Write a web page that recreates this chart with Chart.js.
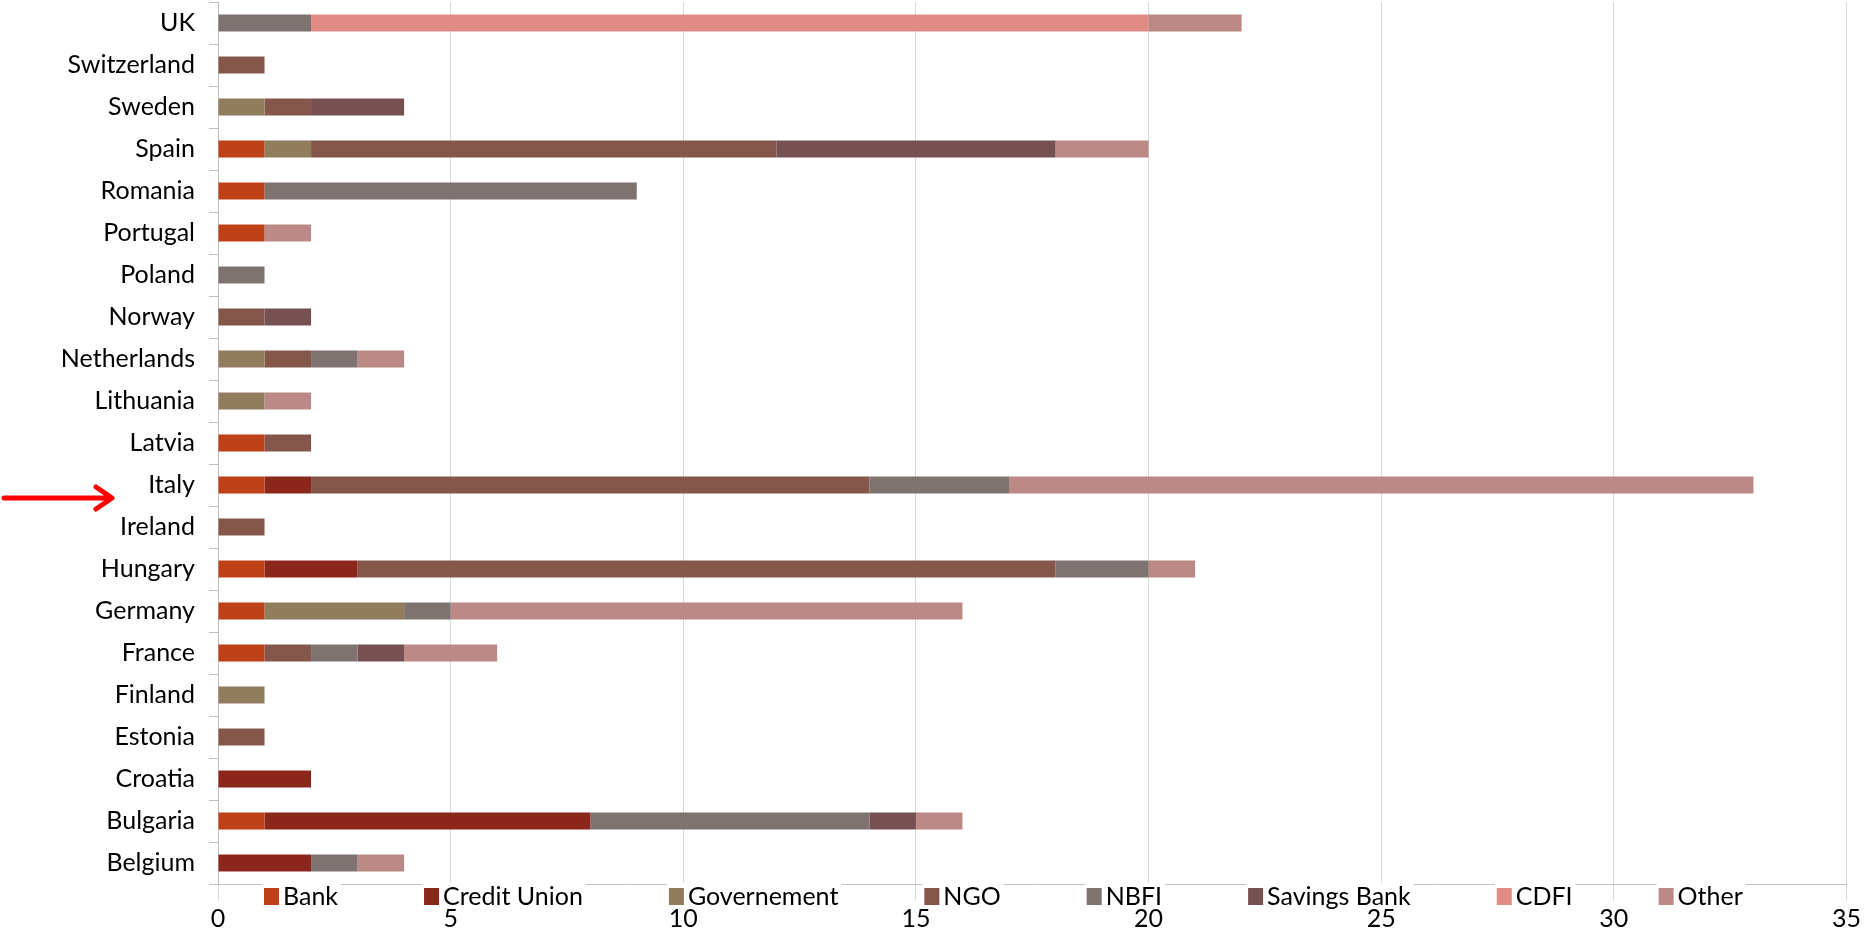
<!DOCTYPE html>
<html>
<head>
<meta charset="utf-8">
<script src="https://cdn.jsdelivr.net/npm/chart.js@4.4.0/dist/chart.umd.min.js"></script>
<style>
    body { margin: 0; background: #fff; }
    #wrap { width: 1865px; height: 936px; position: relative; }
</style>
</head>
<body>
<div id="wrap"><canvas id="chart"></canvas></div>
<script>
// countries, top to bottom
const countries = ["UK", "Switzerland", "Sweden", "Spain", "Romania", "Portugal", "Poland", "Norway",
    "Netherlands", "Lithuania", "Latvia", "Italy", "Ireland", "Hungary", "Germany", "France",
    "Finland", "Estonia", "Croatia", "Bulgaria", "Belgium"];

const bank         = [0, 0, 0, 1, 1, 1, 0, 0, 0, 0, 1, 1, 0, 1, 1, 1, 0, 0, 0, 1, 0];
const creditUnion  = [0, 0, 0, 0, 0, 0, 0, 0, 0, 0, 0, 1, 0, 2, 0, 0, 0, 0, 2, 7, 2];
const governement  = [0, 0, 1, 1, 0, 0, 0, 0, 1, 1, 0, 0, 0, 0, 3, 0, 1, 0, 0, 0, 0];
const ngo          = [0, 1, 1, 10, 0, 0, 0, 1, 1, 0, 1, 12, 1, 15, 0, 1, 0, 1, 0, 0, 0];
const nbfi         = [2, 0, 0, 0, 8, 0, 1, 0, 1, 0, 0, 3, 0, 2, 1, 1, 0, 0, 0, 6, 1];
const savingsBank  = [0, 0, 2, 6, 0, 0, 0, 1, 0, 0, 0, 0, 0, 0, 0, 1, 0, 0, 0, 1, 0];
const cdfi         = [18, 0, 0, 0, 0, 0, 0, 0, 0, 0, 0, 0, 0, 0, 0, 0, 0, 0, 0, 0, 0];
const other        = [2, 0, 0, 2, 0, 1, 0, 0, 1, 1, 0, 16, 0, 1, 11, 2, 0, 0, 0, 1, 1];

const xTicks = [0, 5, 10, 15, 20, 25, 30, 35];
const highlighted = "Italy";

const series = [
    { label: "Bank", data: bank, color: "#BE4016" },
    { label: "Credit Union", data: creditUnion, color: "#8B261D" },
    { label: "Governement", data: governement, color: "#8F7D5C" },
    { label: "NGO", data: ngo, color: "#85574A" },
    { label: "NBFI", data: nbfi, color: "#7F7372" },
    { label: "Savings Bank", data: savingsBank, color: "#775152" },
    { label: "CDFI", data: cdfi, color: "#E08C84" },
    { label: "Other", data: other, color: "#BB8A87" },
];

const FONT = "Lato, 'Open Sans', sans-serif";

// legend drawn between the axis line and the tick labels, like the original
const bottomLegend = {
    id: "bottomLegend",
    afterDraw(chart) {
        const ctx = chart.ctx;
        const y = chart.chartArea.bottom + 12;
        let x = 264;
        ctx.save();
        ctx.font = "25px " + FONT;
        ctx.textBaseline = "middle";
        chart.data.datasets.forEach(ds => {
            const w = ctx.measureText(ds.label).width;
            ctx.fillStyle = "#fff";
            ctx.fillRect(x - 2, y - 13, 20 + w + 4, 26);
            ctx.fillStyle = ds.backgroundColor;
            ctx.fillRect(x, y - 8, 15, 17);
            ctx.fillStyle = "#000";
            ctx.fillText(ds.label, x + 19, y + 1);
            x += 19 + w + 86;
        });
        ctx.restore();
    }
};

// red arrow pointing at the highlighted country
const arrow = {
    id: "arrow",
    afterDraw(chart) {
        const ctx = chart.ctx;
        const y = chart.scales.y.getPixelForValue(countries.indexOf(highlighted)) + 13;
        ctx.save();
        ctx.strokeStyle = "#FF0000";
        ctx.lineWidth = 5;
        ctx.lineCap = "round";
        ctx.lineJoin = "round";
        ctx.beginPath();
        ctx.moveTo(4, y);
        ctx.lineTo(110, y);
        ctx.moveTo(96, y - 11);
        ctx.lineTo(112, y);
        ctx.lineTo(96, y + 11);
        ctx.stroke();
        ctx.restore();
    }
};

new Chart(document.getElementById("chart").getContext("2d"), {
    type: "bar",
    data: {
        labels: countries,
        datasets: series.map(s => ({
            label: s.label,
            data: s.data,
            backgroundColor: s.color,
            borderWidth: 0,
            barPercentage: 0.4,
            categoryPercentage: 1
        }))
    },
    options: {
        indexAxis: "y",
        responsive: true,
        maintainAspectRatio: false,
        animation: false,
        layout: { padding: { top: 2, right: 15, left: 0, bottom: 0 } },
        plugins: {
            legend: { display: false },
            tooltip: { enabled: false }
        },
        scales: {
            x: {
                stacked: true,
                min: 0,
                max: 35,
                afterBuildTicks: axis => { axis.ticks = xTicks.map(v => ({ value: v })); },
                afterFit: axis => { axis.height = 52; },
                grid: { color: "#D9D9D9", tickLength: 16, lineWidth: 1 },
                border: { color: "#BFBFBF" },
                ticks: { color: "#000", font: { family: FONT, size: 25 }, padding: 4 }
            },
            y: {
                stacked: true,
                afterFit: axis => {
                    axis.width = 218;
                    axis.paddingTop = 0;
                    axis.paddingBottom = 0;
                },
                grid: { drawOnChartArea: false, color: "#BFBFBF", tickLength: 9, offset: true },
                border: { color: "#BFBFBF" },
                ticks: { color: "#000", font: { family: FONT, size: 25 }, padding: 14 }
            }
        }
    },
    plugins: [bottomLegend, arrow]
});
</script>
</body>
</html>
